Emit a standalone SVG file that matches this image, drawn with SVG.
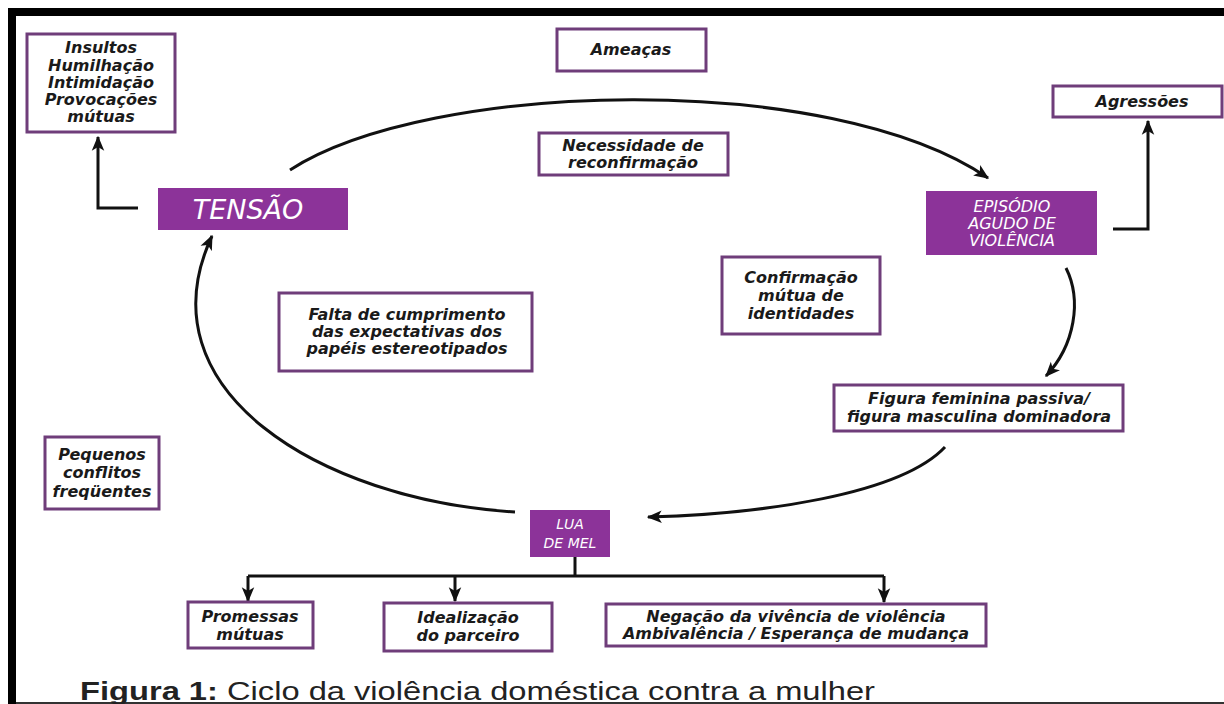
<svg xmlns="http://www.w3.org/2000/svg" width="1224" height="704" viewBox="0 0 1224 704">
<style>
.box{fill:#fff;stroke:#6f3d7a;stroke-width:3}
.phase{fill:#8c3399}
.t{font-family:"DejaVu Sans",sans-serif;font-weight:bold;font-style:italic;font-size:16px;fill:#1a1a1a;text-anchor:middle}
.w{font-family:"DejaVu Sans",sans-serif;font-style:italic;fill:#fff;text-anchor:middle}
.c{stroke:#111;stroke-width:3;fill:none}
.cap{font-family:"Liberation Sans",Arial,sans-serif;font-size:26px;fill:#222}
</style>
<defs>
<marker id="ah" viewBox="0 0 12 12" refX="11" refY="6" markerWidth="15" markerHeight="15" markerUnits="userSpaceOnUse" orient="auto">
<path d="M0,1 L12,6 L0,11 L3,6 z" fill="#111"/>
</marker>
</defs>
<rect x="0" y="0" width="1224" height="704" fill="#fff"/>
<rect x="8" y="8" width="1216" height="8" fill="#000"/>
<rect x="8" y="8" width="8" height="696" fill="#000"/>
<rect x="16" y="702" width="1208" height="2" fill="#333"/>

<g id="connectors">
<path class="c" d="M138 208 H98 V137" marker-end="url(#ah)"/>
<path class="c" d="M1113 229 H1148 V121" marker-end="url(#ah)"/>
<path class="c" d="M290 170 C430 80 830 70 988 178" marker-end="url(#ah)"/>
<path class="c" d="M1066 268 C1082 300 1075 345 1046 376" marker-end="url(#ah)"/>
<path class="c" d="M945 447 C900 495 760 514 648 517" marker-end="url(#ah)"/>
<path class="c" d="M515 512 C320 500 140 390 212 236" marker-end="url(#ah)"/>
<path class="c" d="M575 557 V576"/>
<path class="c" d="M248 576 H884"/>
<path class="c" d="M248 576 V601" marker-end="url(#ah)"/>
<path class="c" d="M455 576 V601" marker-end="url(#ah)"/>
<path class="c" d="M884 576 V602" marker-end="url(#ah)"/>
</g>

<g id="insultos">
<rect class="box" x="27" y="34" width="148" height="98"/>
<text class="t" x="101" y="53">Insultos</text>
<text class="t" x="101" y="71">Humilhação</text>
<text class="t" x="101" y="88">Intimidação</text>
<text class="t" x="101" y="105">Provocações</text>
<text class="t" x="101" y="122">mútuas</text>
</g>

<g id="ameacas">
<rect class="box" x="557" y="29" width="149" height="42"/>
<text class="t" x="631" y="55">Ameaças</text>
</g>

<g id="necessidade">
<rect class="box" x="539" y="133" width="189" height="42"/>
<text class="t" x="633" y="151">Necessidade de</text>
<text class="t" x="633" y="168">reconfirmação</text>
</g>

<g id="agressoes">
<rect class="box" x="1053" y="86" width="169" height="31"/>
<text class="t" x="1142" y="107">Agressões</text>
</g>

<g id="tensao">
<rect class="phase" x="158" y="188" width="190" height="42"/>
<text class="w" x="248" y="219" font-size="27">TENSÃO</text>
</g>

<g id="episodio">
<rect class="phase" x="926" y="191" width="171" height="64"/>
<text class="w" x="1012" y="212" font-size="16">EPISÓDIO</text>
<text class="w" x="1012" y="229" font-size="16">AGUDO DE</text>
<text class="w" x="1012" y="246" font-size="16">VIOLÊNCIA</text>
</g>

<g id="falta">
<rect class="box" x="279" y="293" width="253" height="78"/>
<text class="t" x="407" y="320">Falta de cumprimento</text>
<text class="t" x="407" y="337">das expectativas dos</text>
<text class="t" x="407" y="354">papéis estereotipados</text>
</g>

<g id="confirmacao">
<rect class="box" x="722" y="257" width="158" height="77"/>
<text class="t" x="801" y="283">Confirmação</text>
<text class="t" x="801" y="301">mútua de</text>
<text class="t" x="801" y="319">identidades</text>
</g>

<g id="figura">
<rect class="box" x="834" y="385" width="289" height="46"/>
<text class="t" x="979" y="404">Figura feminina passiva/</text>
<text class="t" x="979" y="422">figura masculina dominadora</text>
</g>

<g id="pequenos">
<rect class="box" x="45" y="437" width="114" height="72"/>
<text class="t" x="102" y="460">Pequenos</text>
<text class="t" x="102" y="478">conflitos</text>
<text class="t" x="102" y="497">freqüentes</text>
</g>

<g id="luademel">
<rect class="phase" x="530" y="510" width="80" height="47"/>
<text class="w" x="570" y="529" font-size="14">LUA</text>
<text class="w" x="570" y="548" font-size="14">DE MEL</text>
</g>

<g id="promessas">
<rect class="box" x="188" y="602" width="125" height="46"/>
<text class="t" x="250" y="622">Promessas</text>
<text class="t" x="250" y="640">mútuas</text>
</g>

<g id="idealizacao">
<rect class="box" x="384" y="603" width="168" height="48"/>
<text class="t" x="468" y="623">Idealização</text>
<text class="t" x="468" y="641">do parceiro</text>
</g>

<g id="negacao">
<rect class="box" x="606" y="604" width="380" height="42"/>
<text class="t" x="796" y="622">Negação da vivência de violência</text>
<text class="t" x="796" y="639">Ambivalência / Esperança de mudança</text>
</g>

<text class="cap" x="80" y="700" textLength="795" lengthAdjust="spacingAndGlyphs"><tspan font-weight="bold">Figura 1:</tspan> Ciclo da violência doméstica contra a mulher</text>
</svg>
